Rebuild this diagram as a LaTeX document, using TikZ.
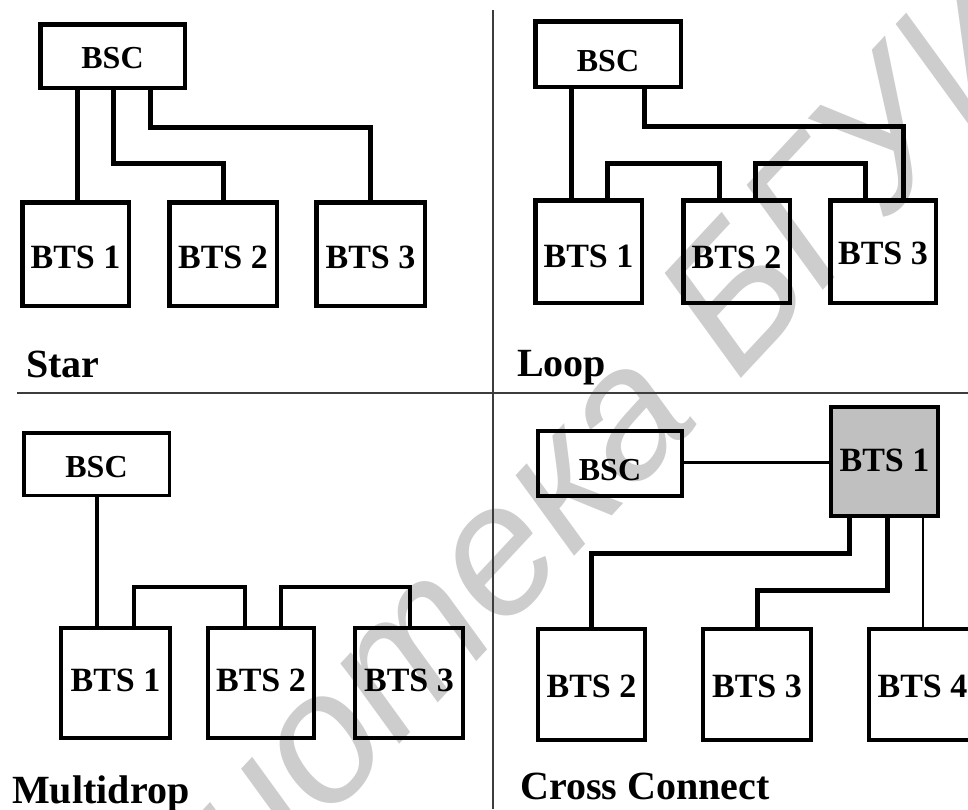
\documentclass[tikz,border=0pt]{standalone}
\usepackage{fontspec}
\setmainfont{Liberation Serif}
\newfontfamily\wmfont{Liberation Sans}
\definecolor{wm}{RGB}{205,205,205}
\definecolor{sepc}{RGB}{60,60,60}
\definecolor{hub}{RGB}{192,192,192}
\newcommand{\shiftlbl}[2]{\raisebox{-#1pt}[\height][\depth]{#2}}
\tikzset{
  box/.style={draw, line width=4.5pt, inner sep=0pt, line join=miter,
    font=\fontsize{34}{40}\selectfont\bfseries},
  thinbox/.style={box, line width=4pt},
  bscfont/.style={font=\fontsize{32}{38}\selectfont\bfseries},
  title/.style={anchor=base west, inner sep=0pt, font=\fontsize{40}{46}\selectfont\bfseries},
  conn/.style={line width=5pt, line join=miter},
  sepline/.style={draw=sepc, line width=2pt}
}
\begin{document}
\begin{tikzpicture}[x=1pt,y=-1pt]
\useasboundingbox (0,0) rectangle (968,809);
\clip (0,0) rectangle (968,809);
\fill[white] (0,0) rectangle (968,809);
% watermark
\node[rotate=47, anchor=base west, text=wm, inner sep=0pt,
  font=\wmfont\itshape\fontsize{185}{200}\selectfont] (wmark) at (-35,1210) {Библиотека БГУИР};
% separators
\coordinate (hL) at (17,393);
\coordinate (hR) at (968,393);
\coordinate (vT) at (493,10);
\coordinate (vB) at (493,809);
\draw[sepline] (hL) -- (hR);
\draw[sepline] (vT) -- (vB);

% ---------- Star ----------
\node[box, bscfont, minimum width=144.5pt, minimum height=63.5pt] (sBSC) at (112.5,56) {\shiftlbl{2}{BSC}};
\node[box, minimum width=106.5pt, minimum height=103.5pt] (sB1) at (75.5,254) {\shiftlbl{3}{BTS 1}};
\node[box, minimum width=107.5pt, minimum height=103.5pt] (sB2) at (223,254) {\shiftlbl{3}{BTS 2}};
\node[box, minimum width=108.5pt, minimum height=103.5pt] (sB3) at (370.5,254) {\shiftlbl{3}{BTS 3}};
\draw[conn] (sBSC.south -| 77,0) -- (sB1.north -| 77,0);
\draw[conn] (sBSC.south -| 113,0) |- (223,163) -- (sB2.north -| 223,0);
\draw[conn] (sBSC.south -| 150,0) |- (370,127) -- (sB3.north -| 370,0);
\node[title] (tStar) at (26,377) {Star};

% ---------- Loop ----------
\node[box, bscfont, minimum width=145.5pt, minimum height=65.5pt] (lBSC) at (608,54) {\shiftlbl{7}{BSC}};
\node[box, minimum width=106.5pt, minimum height=102.5pt] (lB1) at (588.5,251.5) {\shiftlbl{5}{BTS 1}};
\node[box, minimum width=106.5pt, minimum height=102.5pt] (lB2) at (736.5,251.5) {\shiftlbl{6}{BTS 2}};
\node[box, minimum width=105.5pt, minimum height=102.5pt] (lB3) at (883,251.5) {\shiftlbl{2}{BTS 3}};
\draw[conn] (lBSC.south -| 571,0) -- (lB1.north -| 571,0);
\draw[conn] (lBSC.south -| 644,0) |- (903,126) -- (lB3.north -| 903,0);
\draw[conn] (lB1.north -| 607,0) |- (719,163) -- (lB2.north -| 719,0);
\draw[conn] (lB2.north -| 755,0) |- (865,163) -- (lB3.north -| 865,0);
\node[title] (tLoop) at (517,376) {Loop};

% ---------- Multidrop ----------
\node[box, bscfont, line width=3.5pt, minimum width=145.5pt, minimum height=62.5pt] (mBSC) at (96.5,464) {\shiftlbl{3}{BSC}};
\node[thinbox, minimum width=109pt, minimum height=110pt] (mB1) at (115.5,683) {\shiftlbl{-3}{BTS 1}};
\node[thinbox, minimum width=106pt, minimum height=110pt] (mB2) at (261,683) {\shiftlbl{-3}{BTS 2}};
\node[thinbox, minimum width=108pt, minimum height=110pt] (mB3) at (409,683) {\shiftlbl{-3}{BTS 3}};
\draw[conn, line width=4.5pt] (mBSC.south -| 97,0) -- (mB1.north -| 97,0);
\draw[conn, line width=4.5pt] (mB1.north -| 134,0) |- (245,587) -- (mB2.north -| 245,0);
\draw[conn, line width=4.5pt] (mB2.north -| 281,0) |- (410,587) -- (mB3.north -| 410,0);
\node[title] (tMulti) at (12,803) {Multidrop};

% ---------- Cross Connect ----------
\node[thinbox, bscfont, minimum width=144pt, minimum height=65pt] (cBSC) at (610,463.5) {\shiftlbl{7}{BSC}};
\node[thinbox, fill=hub, minimum width=107pt, minimum height=109pt] (cB1) at (884.5,461.5) {\shiftlbl{-1}{BTS 1}};
\node[thinbox, minimum width=107pt, minimum height=111pt] (cB2) at (591.5,684.5) {\shiftlbl{2}{BTS 2}};
\node[thinbox, minimum width=108pt, minimum height=111pt] (cB3) at (757,684.5) {\shiftlbl{2}{BTS 3}};
\node[thinbox, minimum width=107pt, minimum height=111pt] (cB4) at (922.5,684.5) {\shiftlbl{2}{BTS 4}};
\draw[conn, line width=3pt] (cBSC.east |- 0,462) -- (cB1.west |- 0,462);
\draw[conn] (cB1.south -| 849,0) |- (591,553) -- (cB2.north -| 591,0);
\draw[conn] (cB1.south -| 887,0) |- (757,590) -- (cB3.north -| 757,0);
\draw[conn, line width=2.5pt] (cB1.south -| 923,0) -- (cB4.north -| 923,0);
\node[title] (tCross) at (520,799) {Cross Connect};
\end{tikzpicture}
\end{document}
